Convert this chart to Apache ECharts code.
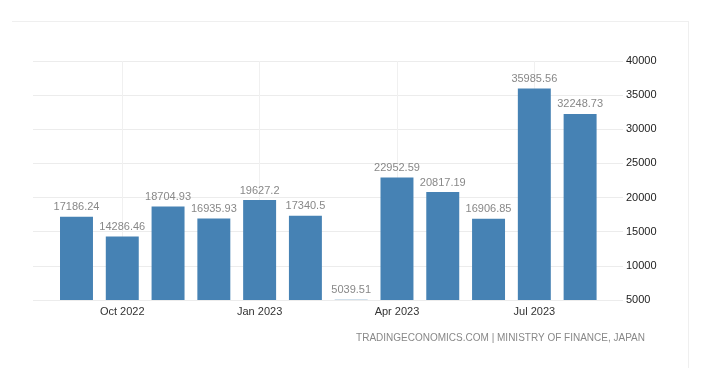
<!DOCTYPE html>
<html>
<head>
<meta charset="utf-8">
<script src="https://cdn.jsdelivr.net/npm/echarts@6/dist/echarts.min.js"></script>
<style>html,body{margin:0;padding:0;background:#fff}#c{width:708px;height:368px}</style>
</head>
<body>
<div id="c"></div>
<script>
var categories = ['Sep 2022','Oct 2022','Nov 2022','Dec 2022','Jan 2023','Feb 2023','Mar 2023','Apr 2023','May 2023','Jun 2023','Jul 2023','Aug 2023'];
var values = [17186.24,14286.46,18704.93,16935.93,19627.2,17340.5,5039.51,22952.59,20817.19,16906.85,35985.56,32248.73];
var yTicks = [5000,10000,15000,20000,25000,30000,35000,40000];
var labeledCategories = ['Oct 2022','Jan 2023','Apr 2023','Jul 2023'];
var sourceText = 'TRADINGECONOMICS.COM | MINISTRY OF FINANCE, JAPAN';

var FONT = 'Liberation Sans';
var chart = echarts.init(document.getElementById('c'), null, {renderer:'canvas'});
chart.setOption({
  animation:false,
  textStyle:{fontFamily:FONT},
  grid:[
    {left:33, right:85, top:61, bottom:68},
    {left:53.6, right:105, top:61, bottom:68}
  ],
  xAxis:[
    {gridIndex:0, type:'value', show:false, min:0, max:1},
    {gridIndex:1, type:'category', data:categories, boundaryGap:true,
     axisLine:{show:false}, axisTick:{show:false},
     axisLabel:{interval:function(i,v){return labeledCategories.indexOf(v) >= 0;}, color:'#333', fontSize:11, margin:6, fontFamily:FONT},
     splitLine:{show:false}}
  ],
  yAxis:[
    {gridIndex:0, type:'value', position:'right', min:yTicks[0], max:yTicks[yTicks.length-1], interval:5000,
     axisLine:{show:false}, axisTick:{show:false},
     axisLabel:{color:'#222', fontSize:11, margin:3, fontFamily:FONT, formatter:function(v){return String(v);}},
     splitLine:{show:true, lineStyle:{color:'#ececec', width:1}}},
    {gridIndex:1, type:'value', show:false, min:yTicks[0], max:yTicks[yTicks.length-1], interval:5000,
     splitLine:{show:false}}
  ],
  series:[{
    type:'bar', xAxisIndex:1, yAxisIndex:1, data:values, barWidth:'72%', z:3,
    itemStyle:{color:'#4682b4'},
    label:{show:true, position:'top', distance:4, color:'#888', fontSize:11, fontFamily:FONT},
    markLine:{
      silent:true, symbol:['none','none'], z:1, label:{show:false},
      lineStyle:{color:'#f0f0f0', type:'solid', width:1},
      data:labeledCategories.map(function(c){return {xAxis:c};})
    }
  }],
  graphic:[
    {type:'line', shape:{x1:12, y1:21.5, x2:688, y2:21.5}, style:{stroke:'#efefef', lineWidth:1}, silent:true},
    {type:'line', shape:{x1:688.5, y1:21, x2:688.5, y2:368}, style:{stroke:'#efefef', lineWidth:1}, silent:true},
    {type:'text', right:63, top:333, style:{text:sourceText, fill:'#888', font:'10px "Liberation Sans"'}}
  ]
});
</script>
</body>
</html>
